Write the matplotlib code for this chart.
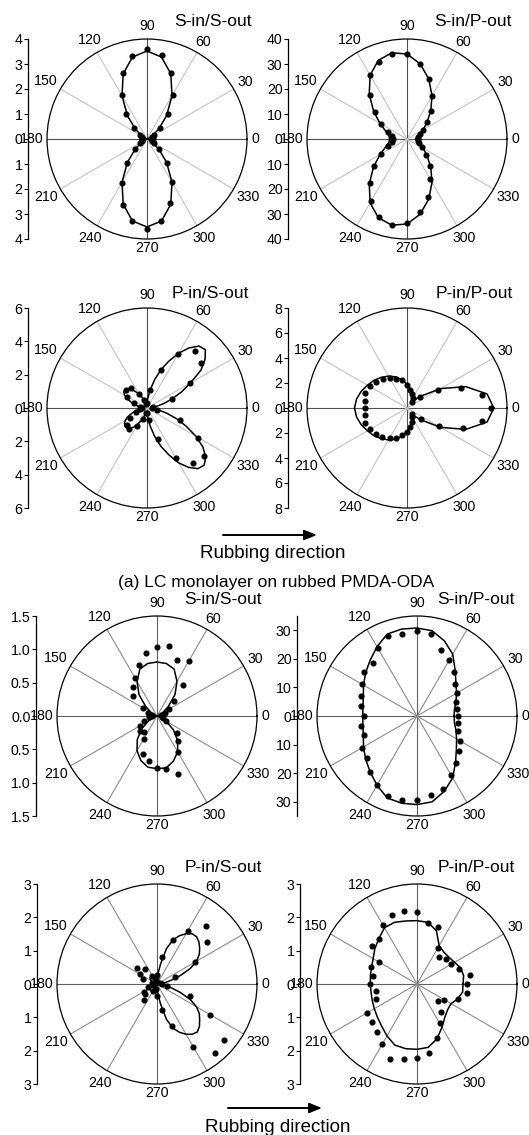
import numpy as np
import matplotlib
matplotlib.use('Agg')
import matplotlib.pyplot as plt
from matplotlib.patches import FancyArrowPatch

plt.rcParams['font.family'] = ['Liberation Sans', 'DejaVu Sans']

# ---------------- data ----------------
ang10 = np.arange(0, 360, 10)
ang5 = np.arange(0, 360, 5)
theta_labels = [0, 30, 60, 90, 120, 150, 180, 210, 240, 270, 300, 330]

titles = ["S-in/S-out", "S-in/P-out", "P-in/S-out", "P-in/P-out",
          "S-in/S-out", "S-in/P-out", "P-in/S-out", "P-in/P-out"]

# (a) rubbed PMDA-ODA
p1_dots = [0.22, 0.2, 0.22, 0.32, 0.69, 1.29, 2.04, 2.83, 3.43, 3.6, 3.36, 2.81,
           2.01, 1.28, 0.67, 0.32, 0.22, 0.2, 0.22, 0.2, 0.22, 0.32, 0.65, 1.27,
           2.02, 2.8, 3.35, 3.6, 3.34, 2.73, 1.97, 1.25, 0.65, 0.32, 0.22, 0.2]
p1_fit = [0, 0.01, 0.05, 0.22, 0.6, 1.22, 2.0, 2.78, 3.33, 3.52, 3.33, 2.78,
          2.0, 1.22, 0.6, 0.22, 0.05, 0.01, 0, 0.01, 0.05, 0.22, 0.6, 1.22,
          2.0, 2.78, 3.33, 3.52, 3.33, 2.78, 2.0, 1.22, 0.6, 0.22, 0.05, 0.01]

p2_dots = [4.3, 4.5, 5.5, 7.4, 10.5, 14.8, 20.0, 25.5, 30.6, 34.1, 34.7, 32.8,
           29.6, 22.8, 16.8, 12.1, 8.2, 6.2, 5.8, 6.0, 8.2, 12.2, 17.1, 23.1,
           28.8, 33.2, 34.8, 33.6, 29.8, 24.8, 18.7, 14.2, 9.9, 6.7, 5.2, 4.5]
p2_fit = [3.5, 4.0, 5.3, 7.5, 10.5, 14.8, 20.0, 25.5, 30.5, 34.0, 35.0, 33.5,
          29.5, 23.5, 17.5, 12.5, 9.0, 7.3, 7.0, 7.3, 9.0, 12.5, 17.5, 23.5,
          29.5, 33.5, 35.0, 34.0, 30.5, 25.5, 20.0, 14.8, 10.5, 7.5, 5.3, 4.0]

p3_dots = [0.3, 0.37, 1.6, 3.0, 4.24, 4.48, 3.77, 2.45, 1.12, 0.3, 0.25, 0.5,
           1.0, 1.53, 1.68, 1.37, 0.84, 0.45, 0.3, 0.45, 0.7, 1.2, 1.59, 1.67,
           1.25, 0.7, 0.3, 0.3, 0.75, 2.0, 3.43, 4.33, 4.46, 3.55, 2.08, 0.63]
p3_fit = [0.25, 0.35, 0.6, 1.05, 1.6, 2.3, 3.0, 3.95, 4.55, 4.95, 4.85, 4.4,
          3.8, 3.1, 2.45, 1.75, 1.1, 0.6, 0.3, 0.25, 0.3, 0.4, 0.55, 0.75,
          0.95, 1.2, 1.45, 1.62, 1.7, 1.7, 1.55, 1.3, 1.0, 0.75, 0.5, 0.35,
          0.3, 0.35, 0.5, 0.75, 1.0, 1.3, 1.5, 1.65, 1.72, 1.72, 1.6, 1.4,
          1.15, 0.85, 0.6, 0.4, 0.3, 0.25, 0.3, 0.6, 1.1, 1.75, 2.45, 3.1,
          3.8, 4.35, 4.75, 4.85, 4.6, 4.1, 3.4, 2.6, 1.9, 1.25, 0.75, 0.4]

p4_dots = [6.7, 6.11, 4.57, 2.82, 1.35, 0.65, 0.88, 1.15, 1.5, 1.82, 2.25, 2.51,
           2.79, 3.04, 3.23, 3.45, 3.55, 3.45, 3.4, 3.45, 3.56, 3.43, 3.27, 3.08,
           2.79, 2.54, 2.23, 1.88, 1.54, 1.17, 0.83, 0.6, 1.42, 2.94, 4.78, 6.13]
p4_fit = [6.95, 6.5, 5.0, 3.1, 1.5, 0.75, 0.85, 1.2, 1.55, 1.9, 2.3, 2.65,
          2.95, 3.2, 3.45, 3.65, 3.9, 4.1, 4.2, 4.1, 3.9, 3.65, 3.45, 3.2,
          2.95, 2.65, 2.3, 1.9, 1.55, 1.2, 0.85, 0.75, 1.5, 3.1, 5.0, 6.5]

# (b) second sample
p5_dots = [0.08, 0.06, 0.12, 0.2, 0.34, 0.6, 0.95, 0.89, 1.06, 1.03, 0.96, 0.81,
           0.65, 0.56, 0.47, 0.24, 0.15, 0.08, 0.08, 0.12, 0.21, 0.3, 0.34, 0.31,
           0.39, 0.61, 0.69, 0.78, 0.8, 0.93, 0.63, 0.49, 0.4, 0.15, 0.1, 0.08]
p5_fit = [0, 0.01, 0.03, 0.1, 0.22, 0.42, 0.6, 0.75, 0.8, 0.81, 0.8, 0.75,
          0.6, 0.42, 0.22, 0.1, 0.03, 0.01, 0, 0.01, 0.05, 0.15, 0.3, 0.46,
          0.6, 0.71, 0.78, 0.79, 0.79, 0.72, 0.62, 0.48, 0.32, 0.16, 0.06, 0.01]

p6_dots = [14.2, 14.1, 14.6, 16.3, 17.5, 20.3, 22.7, 24.6, 29.0, 29.6, 29.3, 29.7,
           27.4, 24.2, 24.0, 22.4, 20.7, 19.8, 18.7, 19.8, 19.7, 22.3, 23.0, 25.7,
           27.7, 29.9, 29.8, 29.3, 28.2, 27.1, 23.8, 21.5, 19.1, 17.5, 15.4, 14.4]
p6_fit = [13.0, 13.3, 14.5, 16.0, 17.8, 20.8, 25.0, 28.0, 30.3, 30.8, 30.9, 30.5,
          28.0, 25.5, 23.5, 21.6, 20.0, 19.2, 19.0, 19.2, 20.0, 21.6, 23.5, 25.5,
          28.0, 30.5, 31.0, 31.0, 30.5, 28.0, 25.0, 21.0, 18.0, 16.0, 14.5, 13.3]

p7_dots = [0.14, 0.1, 0.59, 1.32, 1.96, 2.28, 1.85, 1.42, 0.83, 0.27, 0.15, 0.2,
           0.29, 0.58, 0.77, 0.6, 0.46, 0.15, 0.1, 0.12, 0.3, 0.46, 0.48, 0.61,
           0.25, 0.2, 0.15, 0.35, 0.8, 1.33, 2.18, 2.69, 2.62, 1.85, 1.05, 0.3]
p7_fit = [0.05, 0.12, 0.25, 0.45, 0.75, 1.1, 1.37, 1.55, 1.67, 1.78, 1.85, 1.84,
          1.74, 1.6, 1.41, 1.1, 0.6, 0.3, 0.1, 0.03, 0.02, 0.05, 0.1, 0.15,
          0.2, 0.24, 0.27, 0.28, 0.27, 0.24, 0.2, 0.15, 0.1, 0.06, 0.03, 0.02,
          0.02, 0.02, 0.03, 0.06, 0.1, 0.15, 0.2, 0.24, 0.27, 0.28, 0.27, 0.24,
          0.2, 0.15, 0.1, 0.05, 0.02, 0.03, 0.1, 0.3, 0.6, 1.1, 1.41, 1.6,
          1.74, 1.84, 1.88, 1.8, 1.67, 1.55, 1.37, 1.1, 0.75, 0.45, 0.25, 0.12]

p8_dots = [1.5, 1.6, 1.34, 1.19, 1.15, 1.05, 1.24, 1.81, 1.85, 2.15, 2.21, 2.21,
           2.03, 1.77, 1.78, 1.33, 1.48, 1.35, 1.42, 1.26, 1.31, 1.74, 1.76, 1.89,
           2.09, 2.38, 2.29, 2.21, 2.09, 1.72, 1.36, 1.1, 0.81, 0.94, 1.31, 1.53]
p8_fit = [1.38, 1.42, 1.4, 1.3, 1.25, 1.25, 1.33, 1.7, 1.88, 1.9, 1.92, 1.97,
          1.95, 1.78, 1.65, 1.52, 1.45, 1.42, 1.4, 1.4, 1.43, 1.48, 1.55, 1.65,
          1.8, 1.95, 1.97, 1.96, 1.93, 1.75, 1.5, 1.3, 1.2, 1.18, 1.3, 1.39]

scale_ticks = [[-4, -3, -2, -1, 0, 1, 2, 3, 4],
               [-40, -30, -20, -10, 0, 10, 20, 30, 40],
               [-6, -4, -2, 0, 2, 4, 6],
               [-8, -6, -4, -2, 0, 2, 4, 6, 8],
               [-1.5, -1.0, -0.5, 0.0, 0.5, 1.0, 1.5],
               [-30, -20, -10, 0, 10, 20, 30],
               [-3, -2, -1, 0, 1, 2, 3],
               [-3, -2, -1, 0, 1, 2, 3]]
rmaxes = [4, 40, 6, 8, 1.5, 35, 3, 3]

dots_all = [p1_dots, p2_dots, p3_dots, p4_dots, p5_dots, p6_dots, p7_dots, p8_dots]
fits_all = [p1_fit, p2_fit, p3_fit, p4_fit, p5_fit, p6_fit, p7_fit, p8_fit]
fit_angles = [ang10, ang10, ang5, ang10, ang10, ang10, ang5, ang10]

caption = "(a) LC monolayer on rubbed PMDA-ODA"
arrow_text = "Rubbing direction"

# ---------------- layout (pixels) ----------------
W, H = 529, 1135
R = 100
centers = [(147, 139), (407, 139), (147, 408), (407, 408),
           (157, 716), (417, 716), (157, 984), (417, 984)]
scale_x = [28, 288, 28, 288, 36, 297, 37, 300]
title_xy = [(213, 22), (473, 22), (210, 293), (474, 293),
            (223, 599), (476, 599), (223, 868), (476, 868)]
fmts = ['{:.0f}'] * 4 + ['{:.1f}'] + ['{:.0f}'] * 3

fig = plt.figure(figsize=(W / 100, H / 100), dpi=100)
fig.patch.set_facecolor('white')

TICK_FS = 10.2
TITLE_FS = 12.5

for i in range(8):
    cx, cy = centers[i]
    rmax = rmaxes[i]
    top = i < 4
    ax = fig.add_axes([(cx - R) / W, 1 - (cy + R) / H, 2 * R / W, 2 * R / H],
                      projection='polar')
    ax.set_ylim(0, rmax)
    ax.set_yticks([])
    ax.set_xticks([])
    ax.grid(False)
    ax.spines['polar'].set_linewidth(0.9)
    ax.spines['polar'].set_color('black')
    for t in theta_labels:
        if t % 90 == 0:
            col = '#505050' if top else '#606060'
        else:
            col = '#c4c4c4' if top else '#8c8c8c'
        ax.plot([np.deg2rad(t)] * 2, [0, rmax], color=col, lw=0.8, zorder=1)
    # fitted curve
    fa = np.append(fit_angles[i], 360)
    fr = np.append(fits_all[i], fits_all[i][0])
    ax.plot(np.deg2rad(fa), fr, color='black', lw=1.1, zorder=3)
    # data points
    ax.plot(np.deg2rad(ang10), dots_all[i], 'o', ms=3.4, color='black',
            zorder=4, clip_on=False)
    # angle labels
    for t in theta_labels:
        lab = str(t)
        c, s = np.cos(np.deg2rad(t)), np.sin(np.deg2rad(t))
        d = 104 + 3.9 * len(lab) * abs(c) + 4.7 * abs(s) + (4 if t == 90 else 0)
        ax.text(0.5 + d / 200 * c, 0.5 + d / 200 * s, lab, transform=ax.transAxes,
                ha='center', va='center', fontsize=TICK_FS)

    # radial scale bar on the left
    lax = fig.add_axes([scale_x[i] / W, 1 - (cy + R) / H, 0.002, 2 * R / H])
    lax.set_ylim(-rmax, rmax)
    for sp in ['top', 'right', 'bottom']:
        lax.spines[sp].set_visible(False)
    lax.spines['left'].set_linewidth(0.9)
    lax.patch.set_visible(False)
    lax.set_xticks([])
    tk = scale_ticks[i]
    lax.set_yticks(tk)
    lax.set_yticklabels([fmts[i].format(abs(v)) for v in tk])
    lax.tick_params(axis='y', length=3, width=0.8, labelsize=TICK_FS, pad=1)

    tx, ty = title_xy[i]
    fig.text(tx / W, 1 - ty / H, titles[i], ha='center', va='center',
             fontsize=TITLE_FS)

# arrows and captions
for (x0, x1, ya, ytxt) in [(223, 317, 535, 554), (228, 322, 1108, 1127)]:
    arr = FancyArrowPatch(posA=(x0 / W, 1 - ya / H), posB=(x1 / W, 1 - ya / H),
                          transform=fig.transFigure,
                          arrowstyle='-|>,head_length=0.75,head_width=0.3',
                          mutation_scale=10, lw=1.4, color='black',
                          shrinkA=0, shrinkB=0)
    fig.add_artist(arr)
    fig.text(((x0 + x1) / 2 + 3) / W, 1 - ytxt / H, arrow_text, ha='center',
             va='center', fontsize=13.5)

fig.text(276 / W, 1 - 582 / H, caption, ha='center', va='center', fontsize=12.5)

fig.savefig('out.png', dpi=100, facecolor='white')
